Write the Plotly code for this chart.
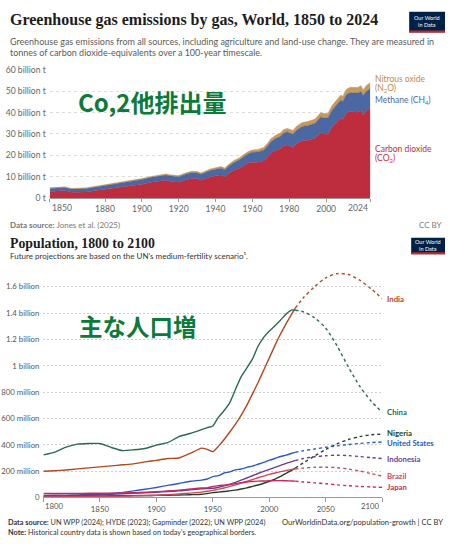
import plotly.graph_objects as go

# ---------------- Data: greenhouse gas emissions (billion t CO2e) ----------------
em_years = [1850, 1855, 1858, 1862, 1866, 1870, 1875, 1880, 1885, 1890, 1895, 1900, 1905, 1910,
            1913, 1916, 1920, 1924, 1927, 1930, 1932, 1935, 1937, 1940, 1943, 1945, 1947, 1950,
            1953, 1956, 1958, 1960, 1963, 1966, 1968, 1970, 1973, 1975, 1977, 1979, 1982, 1984,
            1987, 1990, 1992, 1994, 1997, 1999, 2001, 2003, 2005, 2008, 2009, 2011, 2013, 2015,
            2017, 2019, 2020, 2022, 2024]
co2 = [3.1, 3.3, 3.5, 2.7, 2.7, 2.9, 3.5, 4.1, 4.6, 5.0, 5.7, 6.5, 7.4, 8.0,
       8.3, 7.8, 7.4, 8.6, 9.2, 9.0, 8.3, 9.3, 9.9, 10.4, 10.8, 10.0, 11.5, 13.0,
       14.0, 15.6, 16.5, 16.8, 16.8, 17.4, 19.0, 21.1, 22.5, 23.0, 24.5, 24.8, 23.7, 25.5,
       26.8, 27.0, 27.5, 28.0, 30.6, 30.0, 29.8, 33.0, 34.8, 37.5, 36.8, 39.8, 40.6, 40.3,
       40.2, 40.8, 39.0, 41.0, 42.1]
ch4 = [1.4, 1.45, 1.45, 1.5, 1.55, 1.6, 1.7, 1.8, 1.9, 2.0, 2.1, 2.2, 2.3, 2.4,
       2.45, 2.5, 2.6, 2.7, 2.75, 2.8, 2.85, 2.9, 3.0, 3.1, 3.2, 3.3, 3.4, 3.7,
       3.9, 4.2, 4.4, 4.6, 4.8, 5.0, 5.1, 5.3, 5.6, 5.8, 6.0, 6.1, 6.2, 6.4,
       6.7, 6.9, 6.9, 7.0, 7.3, 7.4, 7.6, 7.9, 8.1, 8.4, 8.4, 8.6, 8.7, 8.8,
       8.9, 9.1, 9.0, 9.1, 9.2]
n2o = [0.3, 0.3, 0.3, 0.3, 0.3, 0.32, 0.33, 0.35, 0.36, 0.38, 0.4, 0.42, 0.45, 0.48,
       0.5, 0.5, 0.52, 0.55, 0.58, 0.6, 0.6, 0.62, 0.65, 0.7, 0.72, 0.72, 0.78, 0.9,
       0.95, 1.0, 1.05, 1.1, 1.15, 1.25, 1.3, 1.4, 1.5, 1.55, 1.6, 1.65, 1.7, 1.75,
       1.8, 1.9, 1.9, 1.95, 2.05, 2.1, 2.15, 2.2, 2.25, 2.35, 2.35, 2.45, 2.5, 2.55,
       2.6, 2.65, 2.6, 2.65, 2.7]
em_yticks = [0, 10, 20, 30, 40, 50, 60]
em_yticktext = ["0 t", "10 billion t", "20 billion t", "30 billion t", "40 billion t",
                "50 billion t", "60 billion t"]
em_xticks = [1880, 1900, 1920, 1940, 1960, 1980, 2000]

# ---------------- Data: population (millions) ----------------
hist_years = [1800, 1810, 1820, 1830, 1840, 1850, 1860, 1870, 1880, 1890, 1900, 1910, 1920, 1930,
              1940, 1945, 1950, 1955, 1960, 1965, 1970, 1975, 1980, 1985, 1990, 1995, 2000, 2005,
              2010, 2015, 2020, 2023]
proj_years = [2023, 2030, 2040, 2050, 2060, 2070, 2080, 2090, 2100]

china_hist = [323, 345, 382, 405, 410, 410, 380, 356, 362, 372, 398, 416, 462, 486,
              515, 530, 543, 610, 660, 720, 820, 916, 982, 1050, 1148, 1216, 1264, 1304,
              1348, 1394, 1424, 1422]
india_hist = [199, 203, 209, 217, 225, 232, 240, 248, 255, 270, 282, 296, 300, 335,
              375, 365, 348, 390, 440, 497, 557, 624, 699, 785, 873, 966, 1060, 1155,
              1243, 1322, 1396, 1438]
usa_hist = [6, 7, 10, 13, 17, 23, 31, 39, 50, 63, 76, 92, 106, 123,
            132, 140, 158, 166, 186, 194, 210, 216, 229, 238, 252, 266, 283, 296,
            311, 322, 336, 343]
nigeria_hist = [10, 10, 11, 11, 12, 12, 13, 13, 14, 15, 16, 17, 19, 21,
                24, 30, 37, 41, 45, 50, 56, 64, 73, 84, 95, 108, 123, 140,
                160, 184, 208, 224]
indonesia_hist = [16, 17, 18, 20, 21, 22, 25, 28, 31, 35, 40, 45, 50, 58,
                  66, 68, 70, 78, 88, 100, 115, 132, 148, 165, 182, 198, 214, 229,
                  244, 259, 272, 281]
brazil_hist = [4, 4, 5, 5, 6, 7, 9, 10, 12, 14, 17, 21, 27, 33,
               41, 47, 54, 63, 72, 84, 96, 109, 122, 136, 150, 162, 175, 186,
               196, 205, 213, 216]
japan_hist = [30, 30, 31, 31, 32, 32, 33, 34, 37, 40, 44, 49, 56, 64,
              72, 73, 84, 90, 94, 99, 105, 112, 118, 121, 124, 125, 127, 128,
              128, 127, 125, 124]

china_proj = [1422, 1410, 1365, 1285, 1150, 990, 845, 733, 646]
india_proj = [1438, 1515, 1600, 1668, 1700, 1693, 1650, 1585, 1508]
usa_proj = [343, 355, 368, 381, 392, 402, 410, 417, 421]
nigeria_proj = [224, 262, 315, 365, 408, 440, 462, 476, 480]
indonesia_proj = [281, 296, 309, 317, 321, 318, 311, 303, 295]
brazil_proj = [216, 223, 229, 230, 226, 216, 201, 181, 162]
japan_proj = [124, 118, 111, 104, 96, 89, 84, 80, 77]

countries = ["India", "China", "Nigeria", "United States", "Indonesia", "Brazil", "Japan"]
hist_series = [india_hist, china_hist, nigeria_hist, usa_hist, indonesia_hist, brazil_hist, japan_hist]
proj_series = [india_proj, china_proj, nigeria_proj, usa_proj, indonesia_proj, brazil_proj, japan_proj]

pop_yticks = [0, 200, 400, 600, 800, 1000, 1200, 1400, 1600]
pop_yticktext = ["0", "200 million", "400 million", "600 million", "800 million", "1 billion",
                 "1.2 billion", "1.4 billion", "1.6 billion"]
pop_xticks = [1800, 1850, 1900, 1950, 2000, 2050, 2100]

# ---------------- Styling ----------------
W, H = 450, 544
def fx(x):
    return x / W
def fy(y):
    return 1 - y / H

C_CO2 = "#be2d3d"
C_CH4 = "#4b68a3"
C_N2O = "#c8995c"
pop_colors = {"India": "#b3471f", "China": "#2b6a4f", "Nigeria": "#243f27",
              "United States": "#2c5bbf", "Indonesia": "#6b3d8f", "Brazil": "#c94a5b",
              "Japan": "#c42a5e"}
label_shift = {"Nigeria": 1, "United States": -1}
FONT = "Lato, 'Open Sans', sans-serif"
SERIF = "'Liberation Serif', 'DejaVu Serif', serif"
CJK = "'Noto Sans CJK JP', 'Noto Sans CJK SC', sans-serif"

fig = go.Figure()

for name, vals, col in [("Carbon dioxide", co2, C_CO2), ("Methane", ch4, C_CH4),
                        ("Nitrous oxide", n2o, C_N2O)]:
    fig.add_trace(go.Scatter(x=em_years, y=vals, stackgroup="em", mode="lines",
                             line=dict(width=0.5, color=col), fillcolor=col, name=name,
                             xaxis="x", yaxis="y", showlegend=False, hoverinfo="skip"))

for name, h, p in zip(countries, hist_series, proj_series):
    col = pop_colors[name]
    fig.add_trace(go.Scatter(x=hist_years, y=h, mode="lines",
                             line=dict(width=1.4, color=col, shape="spline", smoothing=0.5),
                             xaxis="x2", yaxis="y2", showlegend=False, hoverinfo="skip"))
    fig.add_trace(go.Scatter(x=proj_years, y=p, mode="lines",
                             line=dict(width=1.4, color=col, dash="dot", shape="spline", smoothing=0.8),
                             xaxis="x2", yaxis="y2", showlegend=False, hoverinfo="skip"))

tickfont_top = dict(family=FONT, size=8.6, color="#666")
tickfont_bot = dict(family=FONT, size=7.8, color="#555")

fig.update_layout(
    width=W, height=H, autosize=False,
    margin=dict(l=0, r=0, t=0, b=0, pad=0),
    paper_bgcolor="white", plot_bgcolor="white",
    showlegend=False,
    xaxis=dict(domain=[fx(49), fx(371)], range=[1850, 2024], anchor="y",
               tickvals=[1850] + em_xticks + [2024],
               ticktext=[" "] + [str(t) for t in em_xticks] + [" "],
               ticks="outside", ticklen=3, tickcolor="#999", showline=True, linecolor="#999",
               linewidth=1, showgrid=False, zeroline=False, tickfont=tickfont_top),
    yaxis=dict(domain=[fy(196.7), fy(66)], range=[0, 60], anchor="x",
               tickvals=em_yticks, ticktext=em_yticktext, ticks="", showline=False,
               showgrid=True, gridcolor="#dcdcdc", griddash="3px,3px", gridwidth=1,
               zeroline=False, tickfont=tickfont_top, ticklabelstandoff=3),
    xaxis2=dict(domain=[fx(42.6), fx(383)], range=[1800, 2100], anchor="y2",
                tickvals=pop_xticks,
                ticktext=[" "] + [str(t) for t in pop_xticks[1:-1]] + [" "],
                ticks="outside", ticklen=4, tickcolor="#999", showline=True, linecolor="#999",
                linewidth=1, showgrid=False, zeroline=False, tickfont=tickfont_bot),
    yaxis2=dict(domain=[fy(501.7), fy(266.9)], range=[0, 1750], anchor="x2",
                tickvals=pop_yticks, ticktext=pop_yticktext, ticks="", showline=False,
                showgrid=True, gridcolor="#cfcfcf", griddash="2px,2px", gridwidth=1,
                zeroline=False, tickfont=tickfont_bot, ticklabelstandoff=3),
)

ann = []
def text(x, y, s, size=9, color="#333", family=FONT, xanchor="left", yanchor="middle", **kw):
    ann.append(dict(x=x, y=y, xref=kw.pop("xref", "paper"), yref=kw.pop("yref", "paper"),
                    text=s, showarrow=False, xanchor=xanchor, yanchor=yanchor,
                    font=dict(family=family, size=size, color=color), **kw))

# ---- top chart texts ----
text(fx(7), fy(15), "<b>Greenhouse gas emissions by gas, World, 1850 to 2024</b>", size=16,
     color="#1d1d1d", family=SERIF)
text(fx(7), fy(37), "Greenhouse gas emissions from all sources, including agriculture and land-use change. They are measured in",
     size=9, color="#5b5b5b")
text(fx(7), fy(48.5), "tonnes of carbon dioxide-equivalents over a 100-year timescale.", size=9, color="#5b5b5b")
text(1850, fy(207), "1850", size=8.6, color="#666", xref="x")
text(2024, fy(207), "2024", size=8.6, color="#666", xref="x", xanchor="right")
text(fx(374), fy(75.7), "Nitrous oxide", size=8.5, color="#b98a4c")
text(fx(374), fy(85.5), "(N<sub>2</sub>O)", size=8.5, color="#b98a4c")
text(fx(374), fy(97), "Methane (CH<sub>4</sub>)", size=8.5, color=C_CH4)
text(fx(374), fy(146.7), "Carbon dioxide", size=8.5, color=C_CO2)
text(fx(374), fy(156), "(CO<sub>2</sub>)", size=8.5, color=C_CO2)
text(fx(75), fy(98.5), "<b>Co,2他排出量</b>", size=24, color="#0c7a3b", family=CJK)
text(fx(7), fy(224), "<b>Data source:</b> Jones et al. (2025)", size=8, color="#777")
text(fx(445), fy(224), "CC BY", size=8, color="#777", xanchor="right")

# ---- bottom chart texts ----
text(fx(7), fy(242.7), "<b>Population, 1800 to 2100</b>", size=13.8, color="#1d1d1d", family=SERIF)
text(fx(7), fy(256), "Future projections are based on the UN's medium-fertility scenario¹.", size=8, color="#333")
text(fx(76), fy(326.7), "<b>主な人口増</b>", size=23.5, color="#0c7a3b", family=CJK)
text(1800, fy(510.5), "1800", size=7.8, color="#555", xref="x2")
text(2100, fy(510.5), "2100", size=7.8, color="#555", xref="x2", xanchor="right")
for name, p in zip(countries, proj_series):
    text(2100, p[-1], "<b>%s</b>" % name, size=7.8, color=pop_colors[name], xref="x2", yref="y2",
         xshift=3, yshift=label_shift.get(name, 0))
text(fx(5), fy(527), "<b>Data source:</b> UN WPP (2024); HYDE (2023); Gapminder (2022); UN WPP (2024)",
     size=7.3, color="#333")
text(fx(5), fy(537), "<b>Note:</b> Historical country data is shown based on today's geographical borders.",
     size=7.3, color="#333")
text(fx(446), fy(527), "OurWorldinData.org/population-growth | CC BY", size=7.6, color="#333", xanchor="right")

# ---- logos ----
shapes = []
for (x0, y0, x1, y1) in [(410, 7, 446, 28), (412, 237, 446, 254)]:
    shapes.append(dict(type="rect", xref="paper", yref="paper", x0=fx(x0), x1=fx(x1),
                       y0=fy(y1), y1=fy(y0), fillcolor="#002147", line=dict(width=0)))
    shapes.append(dict(type="rect", xref="paper", yref="paper", x0=fx(x0), x1=fx(x1),
                       y0=fy(y1), y1=fy(y1 - 2), fillcolor="#ce261e", line=dict(width=0)))
    ann.append(dict(x=fx((x0 + x1) / 2), y=fy((y0 + y1 - 2) / 2), xref="paper", yref="paper",
                    text="Our World<br>in Data", showarrow=False, xanchor="center", yanchor="middle",
                    font=dict(family=FONT, size=5.5, color="white")))

fig.update_layout(annotations=ann, shapes=shapes)
fig.write_html("out.html")
